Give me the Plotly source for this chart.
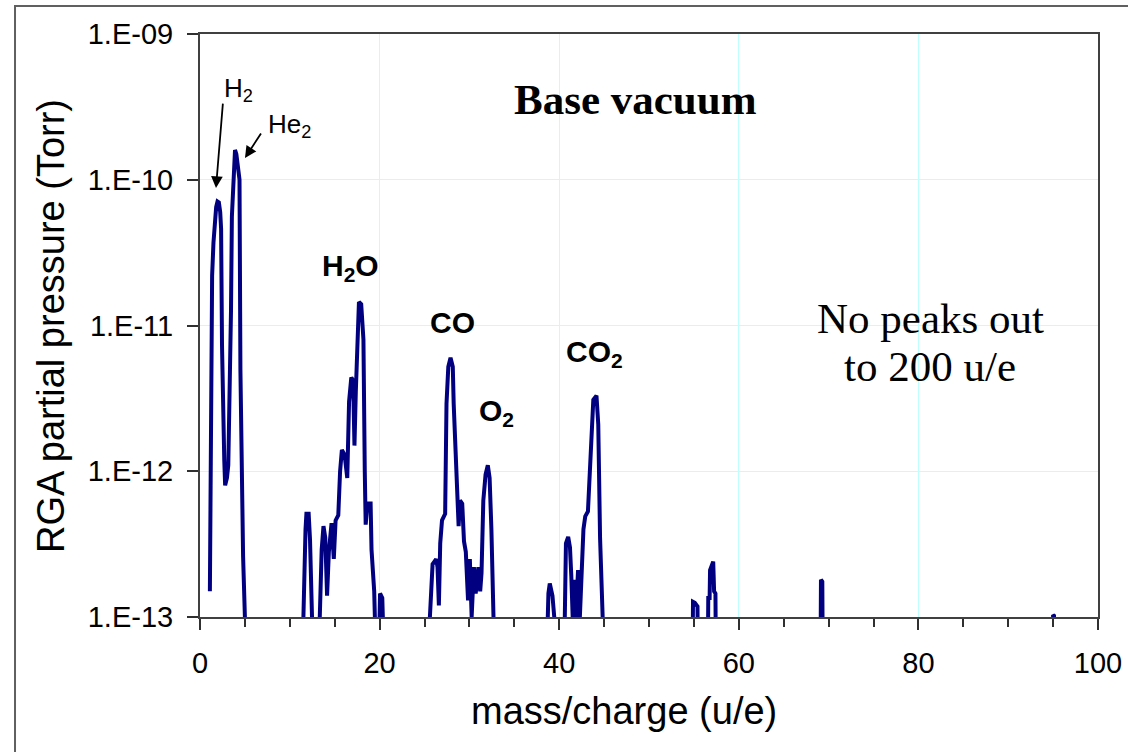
import plotly.graph_objects as go

# ---- data (mass/charge in u/e, partial pressure in Torr) ----
mz_light = [1.1, 1.2, 1.25, 1.35, 1.5, 1.65, 1.8, 1.95, 2.1, 2.25, 2.35, 2.45, 2.55, 2.7, 2.8, 3.0,
            3.15, 3.25, 3.35, 3.45, 3.55, 3.7, 3.8, 3.9, 4.05, 4.2, 4.4, 4.5, 4.6, 4.8, 5.0, 5.1]
p_light = [1.5e-13, 1.05e-12, 1.2e-11, 2.2e-11, 3.7e-11, 5.5e-11, 6.5e-11, 7.1e-11, 7.0e-11, 6.0e-11,
           4.6e-11, 7.4e-12, 2.2e-12, 1.2e-12, 8e-13, 9e-13, 1.1e-12, 2.2e-12, 6.6e-12, 1.24e-11,
           5.6e-11, 8.5e-11, 1.3e-10, 1.6e-10, 1.5e-10, 1.3e-10, 1.0e-10, 5e-12, 1.45e-12, 2.6e-13,
           1e-13, 5e-14]

mz_water = [11.4, 11.5, 11.6, 11.75, 11.85, 12.1, 12.25, 12.45, 12.6, 13.2, 13.35, 13.55, 13.75,
            13.95, 14.15, 14.35, 14.65, 14.9, 15.1, 15.4, 15.6, 15.8, 16.1, 16.4, 16.6, 16.85, 17.05,
            17.2, 17.35, 17.5, 17.7, 17.95, 18.1, 18.2, 18.35, 18.45, 18.65, 19.0, 19.1, 19.4, 19.6,
            19.9, 20.05, 20.3, 20.5]
p_water = [5e-14, 1e-13, 1.7e-13, 4e-13, 5.1e-13, 5.1e-13, 3.4e-13, 1.2e-13, 5e-14, 5e-14, 1.3e-13,
           2.9e-13, 4.2e-13, 3.5e-13, 1.4e-13, 2.8e-13, 4.4e-13, 2.5e-13, 4.6e-13, 5e-13, 1.0e-12,
           1.4e-12, 1.3e-12, 9e-13, 3e-12, 4.4e-12, 4.2e-12, 1.5e-12, 3.5e-12, 7.4e-12, 1.45e-11,
           1.4e-11, 1.1e-11, 8e-12, 1e-12, 4.3e-13, 6e-13, 6e-13, 2.9e-13, 1.5e-13, 5e-14, 5e-14,
           1.45e-13, 1.35e-13, 5e-14]

mz_co = [25.5, 25.6, 25.75, 25.9, 26.3, 26.45, 26.6, 26.75, 26.95, 27.3, 27.45, 27.65, 27.9, 28.15,
         28.25, 28.5, 28.8, 28.95, 29.2, 29.4, 29.6, 29.85, 30.05, 30.25, 30.5, 30.7, 31.0, 31.2,
         31.35, 31.55, 31.8, 32.05, 32.25, 32.45, 32.7, 32.8]
p_co = [5e-14, 1e-13, 1.8e-13, 2.3e-13, 2.5e-13, 2.2e-13, 1.2e-13, 3.2e-13, 4.6e-13, 5.1e-13,
        2.9e-12, 5.2e-12, 6.0e-12, 5.2e-12, 2.9e-12, 1e-12, 4.2e-13, 6.3e-13, 6e-13, 3.3e-13,
        2.8e-13, 1.3e-13, 2.5e-13, 1e-13, 2.2e-13, 1.45e-13, 2.2e-13, 1.5e-13, 2e-13, 6.3e-13,
        9.5e-13, 1.1e-12, 9e-13, 4e-13, 1e-13, 5e-14]

mz_co2 = [38.6, 38.7, 38.8, 38.95, 39.25, 39.45, 39.55, 40.55, 40.65, 40.75, 41.0, 41.2, 41.35,
          41.5, 41.65, 41.85, 42.1, 42.3, 42.7, 42.9, 43.2, 43.35, 43.6, 43.8, 44.15, 44.35, 44.55,
          44.85, 45.0]
p_co2 = [5e-14, 1e-13, 1.45e-13, 1.7e-13, 1.4e-13, 1e-13, 5e-14, 5e-14, 1e-13, 3.2e-13, 3.55e-13,
         3e-13, 1.9e-13, 1e-13, 1.8e-13, 1e-13, 2.1e-13, 1e-13, 4e-13, 4.9e-13, 5.3e-13, 8.2e-13,
         2.1e-12, 3.1e-12, 3.3e-12, 2.1e-12, 3.5e-13, 1e-13, 5e-14]

mz_heavy = [54.85, 54.9, 55.1, 55.4, 55.45, 56.55, 56.6, 56.75, 56.8, 57.0, 57.15, 57.25, 57.4,
            57.45, 69.1, 69.15, 69.3, 69.35, 94.95, 95.0, 95.1, 95.15, 100.0]
p_heavy = [5e-14, 1.27e-13, 1.25e-13, 1.18e-13, 5e-14, 5e-14, 1.35e-13, 1.35e-13, 2.1e-13, 2.3e-13,
           2.4e-13, 1.5e-13, 1.45e-13, 5e-14, 5e-14, 1.8e-13, 1.75e-13, 5e-14, 5e-14, 1.03e-13,
           1.02e-13, 5e-14, 5e-14]

y_tick_vals = [1e-13, 1e-12, 1e-11, 1e-10, 1e-9]
y_tick_text = ["1.E-13", "1.E-12", "1.E-11", "1.E-10", "1.E-09"]

mz = mz_light + mz_water + mz_co + mz_co2 + mz_heavy
pressure = p_light + p_water + p_co + p_co2 + p_heavy

fig = go.Figure()
fig.add_trace(go.Scatter(x=mz, y=pressure, mode="lines",
                         line=dict(color="#000080", width=4), showlegend=False))

SANS = "Liberation Sans, Arial, sans-serif"
SERIF = "Liberation Serif, Times New Roman, serif"
axis_font = dict(family=SANS, size=29, color="black")
title_font = dict(family=SANS, size=38, color="black")

fig.update_layout(
    width=1128, height=752,
    margin=dict(l=200, r=30, t=34, b=135, autoexpand=False),
    paper_bgcolor="white", plot_bgcolor="white",
    xaxis=dict(range=[0, 100], dtick=20, tick0=0, showgrid=True, gridcolor="#c0ffff", gridwidth=1,
               zeroline=False, showline=True, linecolor="#404040", linewidth=2, mirror=True,
               ticks="outside", ticklen=11, tickwidth=1.5, tickcolor="#303030",
               minor=dict(dtick=5, ticks="outside", ticklen=8, tickwidth=1.5, tickcolor="#303030",
                          showgrid=False),
               tickfont=axis_font, ticklabelstandoff=8, automargin=False),
    yaxis=dict(type="log", range=[-13, -9], tickvals=y_tick_vals, ticktext=y_tick_text,
               showgrid=True, gridcolor="#c0ffff", gridwidth=1, zeroline=False,
               showline=True, linecolor="#404040", linewidth=2, mirror=True,
               ticks="outside", ticklen=11, tickwidth=1.5, tickcolor="#303030",
               tickfont=axis_font, ticklabelstandoff=8, automargin=False),
)

# axis titles
fig.add_annotation(xref="paper", yref="paper", x=(624 - 200) / 898, y=(617 - 711) / 583,
                   text="mass/charge (u/e)", font=title_font, showarrow=False,
                   xanchor="center", yanchor="middle")
fig.add_annotation(xref="paper", yref="paper", x=(51 - 200) / 898, y=(617 - 326) / 583,
                   text="RGA partial pressure (Torr)", font=title_font, showarrow=False,
                   textangle=-90, xanchor="center", yanchor="middle")

# outer border
fig.add_shape(type="rect", xref="paper", yref="paper",
              x0=-0.206, x1=1.08, y0=-0.3, y1=1.048,
              line=dict(color="#606060", width=2), fillcolor="rgba(0,0,0,0)", layer="above")

lab = dict(family=SANS, size=26, color="black")
blab = dict(family=SANS, size=30, color="black")
serif_b = dict(family=SERIF, size=43, color="black")
serif = dict(family=SERIF, size=43, color="black")

ann = [
    dict(x=4.34, y=-9.384, text="H<sub>2</sub>", font=lab),
    dict(x=10.0, y=-9.631, text="He<sub>2</sub>", font=lab),
    dict(x=16.8, y=-10.6, text="<b>H<sub>2</sub>O</b>", font=blab),
    dict(x=28.1, y=-10.98, text="<b>CO</b>", font=blab),
    dict(x=33.0, y=-11.6, text="<b>O<sub>2</sub></b>", font=blab),
    dict(x=43.9, y=-11.19, text="<b>CO<sub>2</sub></b>", font=blab),
    dict(x=48.5, y=-9.45, text="<b>Base vacuum</b>", font=serif_b),
    dict(x=81.3, y=-10.95, text="No peaks out", font=serif),
    dict(x=81.3, y=-11.28, text="to 200 u/e", font=serif),
]
for a in ann:
    fig.add_annotation(xref="x", yref="y", showarrow=False, **a)

# arrows
fig.add_annotation(x=1.78, y=-10.057, ax=2.56, ay=-9.467, xref="x", yref="y", axref="x", ayref="y",
                   text="", showarrow=True, arrowhead=2, arrowsize=1.3, arrowwidth=1.8,
                   arrowcolor="black")
fig.add_annotation(x=5.01, y=-9.851, ax=6.9, ay=-9.672, xref="x", yref="y", axref="x", ayref="y",
                   text="", showarrow=True, arrowhead=2, arrowsize=1.3, arrowwidth=1.8,
                   arrowcolor="black")

fig.write_html("out.html")
